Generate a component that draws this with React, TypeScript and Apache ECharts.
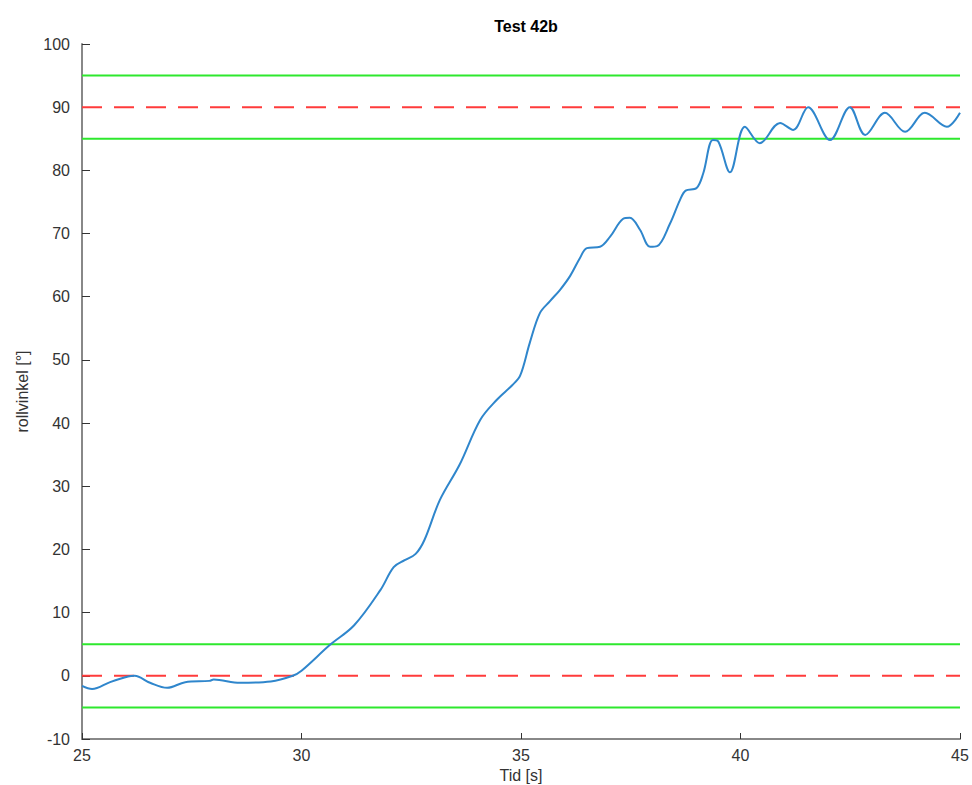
import React, { useEffect, useRef } from "react";
import * as echarts from "echarts";

const timeS = [25, 25.23, 25.64, 26.05, 26.2, 26.55, 26.94, 27.35, 27.9, 28.0, 28.6, 29.3, 29.8, 30.0, 30.65, 31.2, 31.8, 32.1, 32.35, 32.6, 32.8, 33.15, 33.6, 34.07, 34.45, 34.8, 34.98, 35.2, 35.43, 35.66, 35.89, 36.12, 36.34, 36.5, 36.8, 37.03, 37.32, 37.48, 37.71, 37.94, 38.1, 38.39, 38.62, 38.75, 39.0, 39.15, 39.37, 39.5, 39.76, 40.1, 40.44, 40.9, 41.2, 41.54, 42.04, 42.49, 42.84, 43.29, 43.75, 44.2, 44.7, 45];
const rollDeg = [-1.6, -2.1, -1.0, -0.1, 0, -1.1, -1.9, -1.0, -0.8, -0.6, -1.1, -0.9, 0, 0.8, 4.9, 8, 13.6, 17.2, 18.3, 19.3, 21.5, 27.8, 33.4, 40.5, 43.7, 46.0, 47.5, 52.7, 57.4, 59.3, 61.1, 63.3, 66.1, 67.7, 67.9, 69.5, 72.3, 72.5, 70.6, 67.9, 68.0, 71.5, 75.3, 76.8, 77.2, 79.5, 84.8, 84.5, 79.7, 86.9, 84.3, 87.5, 86.4, 90, 84.8, 90, 85.6, 89.1, 86.1, 89.1, 86.9, 89.1];
const xRange = [25, 45];
const greenLevels = [95, 85, 5, -5];
const redLevels = [90, 0];

export default function App() {
  const ref = useRef<HTMLDivElement>(null);
  useEffect(() => {
    const chart = echarts.init(ref.current!, undefined, { renderer: "svg" });
    const font = "Helvetica, Arial, 'Liberation Sans', sans-serif";
    const hLine = (v: number, color: string, dashed: boolean) => ({
      type: "line",
      data: xRange.map((x) => [x, v]),
      symbol: "none",
      silent: true,
      lineStyle: { color, width: 2, type: dashed ? [20, 12] : "solid" },
    });
    chart.setOption({
      animation: false,
      title: {
        text: "Test 42b",
        left: 521,
        top: 13,
        textAlign: "center",
        textStyle: { fontSize: 16, fontWeight: "bold", color: "#000", fontFamily: font },
      },
      grid: { left: 82, right: 12, top: 44, bottom: 46, outerBoundsMode: "none", containLabel: false },
      xAxis: {
        type: "value",
        min: 25,
        max: 45,
        interval: 5,
        name: "Tid [s]",
        nameLocation: "middle",
        nameGap: 26,
        nameTextStyle: { fontSize: 16, color: "#333", fontFamily: font },
        axisLine: { onZero: false, lineStyle: { color: "#888", width: 2 } },
        axisTick: { inside: true, length: 6, lineStyle: { color: "#333" } },
        axisLabel: { fontSize: 16, color: "#333", fontFamily: font, margin: 8 },
        splitLine: { show: false },
      },
      yAxis: {
        type: "value",
        min: -10,
        max: 100,
        interval: 10,
        name: "rollvinkel [°]",
        nameLocation: "middle",
        nameGap: 52,
        nameTextStyle: { fontSize: 16, color: "#333", fontFamily: font },
        axisLine: { show: true, onZero: false, lineStyle: { color: "#888", width: 2 } },
        axisTick: { show: true, inside: true, length: 8, lineStyle: { color: "#333" } },
        axisLabel: { fontSize: 16, color: "#333", fontFamily: font, margin: 12 },
        splitLine: { show: false },
      },
      series: [
        ...greenLevels.map((v) => hLine(v, "#2ee82e", false)),
        ...redLevels.map((v) => hLine(v, "#ff3b3b", true)),
        {
          type: "line",
          data: timeS.map((t, i) => [t, rollDeg[i]]),
          symbol: "none",
          smooth: 0.35,
          lineStyle: { color: "#2f86cc", width: 2 },
        },
      ],
    });
    return () => chart.dispose();
  }, []);
  return <div ref={ref} style={{ position: "absolute", left: 0, top: 0, width: 972, height: 785 }} />;
}
